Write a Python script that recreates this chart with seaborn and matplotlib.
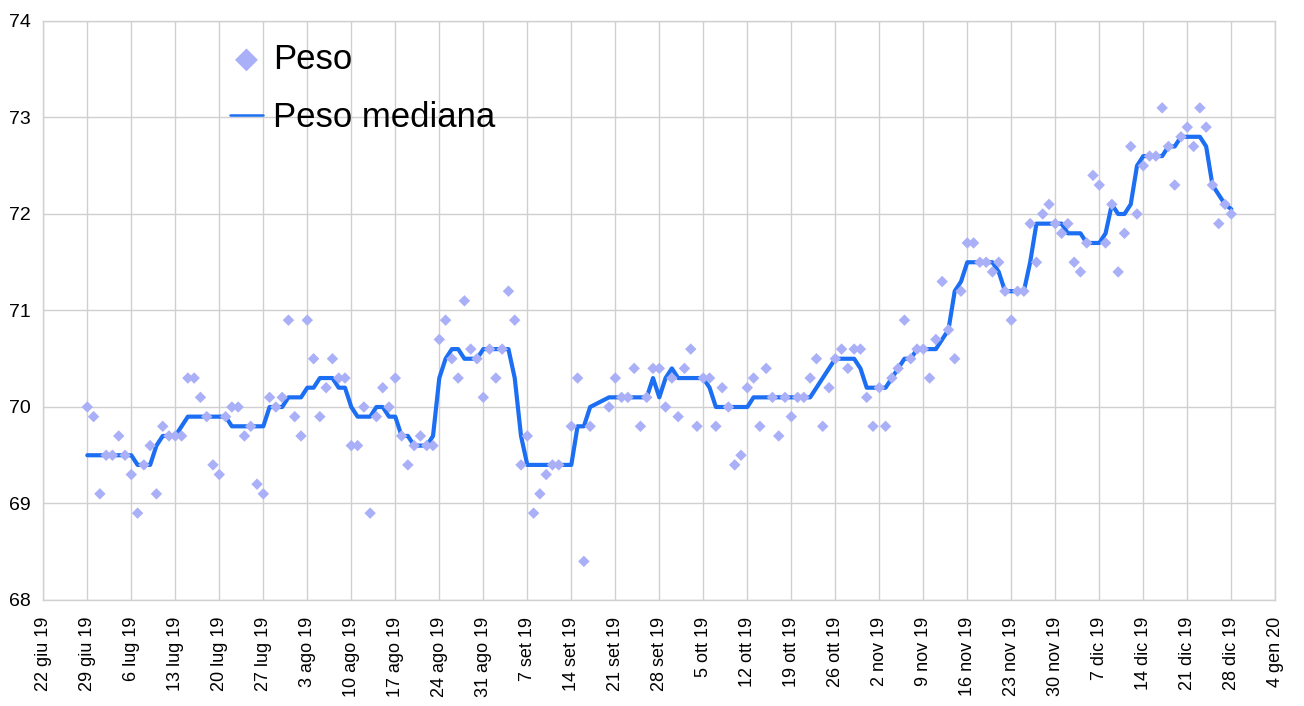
import numpy as np
import pandas as pd
import matplotlib
matplotlib.use("Agg")
import matplotlib.pyplot as plt
import seaborn as sns

NA = None
# daily weights from 29 giu 19 (day 0) to 28 dic 19 (day 182); None = no measurement
peso = [
    70.0, 69.9, 69.1, 69.5, 69.5, 69.7, 69.5, 69.3, 68.9, 69.4,   # 0-9
    69.6, 69.1, 69.8, 69.7, 69.7, 69.7, 70.3, 70.3, 70.1, 69.9,   # 10-19
    69.4, 69.3, 69.9, 70.0, 70.0, 69.7, 69.8, 69.2, 69.1, 70.1,   # 20-29
    70.0, 70.1, 70.9, 69.9, 69.7, 70.9, 70.5, 69.9, 70.2, 70.5,   # 30-39
    70.3, 70.3, 69.6, 69.6, 70.0, 68.9, 69.9, 70.2, 70.0, 70.3,   # 40-49
    69.7, 69.4, 69.6, 69.7, 69.6, 69.6, 70.7, 70.9, 70.5, 70.3,   # 50-59
    71.1, 70.6, 70.5, 70.1, 70.6, 70.3, 70.6, 71.2, 70.9, 69.4,   # 60-69
    69.7, 68.9, 69.1, 69.3, 69.4, 69.4, NA, 69.8, 70.3, 68.4,     # 70-79
    69.8, NA, NA, 70.0, 70.3, 70.1, 70.1, 70.4, 69.8, 70.1,       # 80-89
    70.4, 70.4, 70.0, 70.3, 69.9, 70.4, 70.6, 69.8, 70.3, 70.3,   # 90-99
    69.8, 70.2, 70.0, 69.4, 69.5, 70.2, 70.3, 69.8, 70.4, 70.1,   # 100-109
    69.7, 70.1, 69.9, 70.1, 70.1, 70.3, 70.5, 69.8, 70.2, 70.5,   # 110-119
    70.6, 70.4, 70.6, 70.6, 70.1, 69.8, 70.2, 69.8, 70.3, 70.4,   # 120-129
    70.9, 70.5, 70.6, 70.6, 70.3, 70.7, 71.3, 70.8, 70.5, 71.2,   # 130-139
    71.7, 71.7, 71.5, 71.5, 71.4, 71.5, 71.2, 70.9, 71.2, 71.2,   # 140-149
    71.9, 71.5, 72.0, 72.1, 71.9, 71.8, 71.9, 71.5, 71.4, 71.7,   # 150-159
    72.4, 72.3, 71.7, 72.1, 71.4, 71.8, 72.7, 72.0, 72.5, 72.6,   # 160-169
    72.6, 73.1, 72.7, 72.3, 72.8, 72.9, 72.7, 73.1, 72.9, 72.3,   # 170-179
    71.9, 72.1, 72.0,                                             # 180-182
]
# "Peso mediana" line values (None where there is no row)
peso_mediana = [
    69.50, 69.50, 69.50, 69.50, 69.50, 69.50, 69.50, 69.50, 69.40, 69.40,
    69.40, 69.60, 69.70, 69.70, 69.70, 69.80, 69.90, 69.90, 69.90, 69.90,
    69.90, 69.90, 69.90, 69.80, 69.80, 69.80, 69.80, 69.80, 69.80, 70.00,
    70.00, 70.00, 70.10, 70.10, 70.10, 70.20, 70.20, 70.30, 70.30, 70.30,
    70.20, 70.20, 70.00, 69.90, 69.90, 69.90, 70.00, 70.00, 69.90, 69.90,
    69.70, 69.70, 69.60, 69.60, 69.60, 69.70, 70.30, 70.50, 70.60, 70.60,
    70.50, 70.50, 70.50, 70.60, 70.60, 70.60, 70.60, 70.60, 70.30, 69.70,
    69.40, 69.40, 69.40, 69.40, 69.40, 69.40, NA, 69.40, 69.80, 69.80,
    70.00, NA, NA, 70.10, 70.10, 70.10, 70.10, 70.10, 70.10, 70.10,
    70.30, 70.10, 70.30, 70.40, 70.30, 70.30, 70.30, 70.30, 70.30, 70.20,
    70.00, 70.00, 70.00, 70.00, 70.00, 70.00, 70.10, 70.10, 70.10, 70.10,
    70.10, 70.10, 70.10, 70.10, 70.10, 70.10, 70.20, 70.30, 70.40, 70.50,
    70.50, 70.50, 70.50, 70.40, 70.20, 70.20, 70.20, 70.20, 70.30, 70.40,
    70.50, 70.50, 70.60, 70.60, 70.60, 70.60, 70.70, 70.80, 71.20, 71.30,
    71.50, 71.50, 71.50, 71.50, 71.50, 71.40, 71.20, 71.20, 71.20, 71.20,
    71.50, 71.90, 71.90, 71.90, 71.90, 71.90, 71.80, 71.80, 71.80, 71.70,
    71.70, 71.70, 71.80, 72.10, 72.00, 72.00, 72.10, 72.50, 72.60, 72.60,
    72.60, 72.60, 72.70, 72.70, 72.80, 72.80, 72.80, 72.80, 72.70, 72.30,
    72.20, 72.10, 72.05,
]
date_start = "2019-06-29"
date_end = "2019-12-28"

tick_labels = ["22 giu 19", "29 giu 19", "6 lug 19", "13 lug 19", "20 lug 19",
               "27 lug 19", "3 ago 19", "10 ago 19", "17 ago 19", "24 ago 19",
               "31 ago 19", "7 set 19", "14 set 19", "21 set 19", "28 set 19",
               "5 ott 19", "12 ott 19", "19 ott 19", "26 ott 19", "2 nov 19",
               "9 nov 19", "16 nov 19", "23 nov 19", "30 nov 19", "7 dic 19",
               "14 dic 19", "21 dic 19", "28 dic 19", "4 gen 20"]
y_ticks = [68, 69, 70, 71, 72, 73, 74]

dates = pd.date_range(date_start, date_end, freq="D")
tick_dates = pd.date_range("2019-06-22", "2020-01-04", freq="7D")

df = pd.DataFrame({
    "data": dates,
    "Peso": pd.to_numeric(pd.Series(peso), errors="coerce").astype(float),
    "Peso mediana": pd.to_numeric(pd.Series(peso_mediana), errors="coerce").astype(float),
})

sns.set_theme(style="white")
plt.rcParams["font.family"] = ["Liberation Sans", "DejaVu Sans"]
plt.rcParams["text.color"] = "black"
plt.rcParams["xtick.color"] = "black"
plt.rcParams["ytick.color"] = "black"

W, H = 1304, 706
fig = plt.figure(figsize=(W / 100, H / 100), dpi=100)
x0, x1, yt, yb = 43.3, 1275.3, 21, 600
ax = fig.add_axes([x0 / W, 1 - yb / H, (x1 - x0) / W, (yb - yt) / H])

sns.lineplot(data=df.dropna(subset=["Peso mediana"]), x="data", y="Peso mediana",
             ax=ax, color="#1C6EF2", linewidth=3, label="Peso mediana", zorder=2)
sns.scatterplot(data=df.dropna(subset=["Peso"]), x="data", y="Peso", ax=ax,
                marker="D", s=34, color="#AAB0F7", edgecolor="none",
                label="Peso", zorder=3)

ax.set_xlim(tick_dates[0], tick_dates[-1])
ax.set_ylim(68, 74)
ax.set_xticks(tick_dates)
ax.set_xticklabels(tick_labels, rotation=90, fontsize=13, va="top")
ax.set_yticks(y_ticks)
ax.set_yticklabels([str(v) for v in y_ticks], fontsize=14)
ax.set_xlabel("")
ax.set_ylabel("")
ax.grid(True, color="#d0d0d0", linewidth=1)
for sp in ax.spines.values():
    sp.set_color("#d0d0d0")
    sp.set_linewidth(1)
ax.tick_params(axis="both", length=4, color="#c8c8c8", width=1, labelcolor="black")
ax.tick_params(axis="x", pad=8)
ax.tick_params(axis="y", pad=5)

h, l = ax.get_legend_handles_labels()
order = [l.index("Peso"), l.index("Peso mediana")]
leg = ax.legend([h[i] for i in order], [l[i] for i in order], loc="upper left",
                bbox_to_anchor=(0.1515, 0.962), borderaxespad=0, borderpad=0,
                frameon=False, fontsize=25, handlelength=0.95, handletextpad=0.3,
                labelspacing=0.72, markerscale=2.0)
for t in leg.get_texts():
    t.set_color("black")
for lh in leg.get_lines():
    lh.set_linewidth(1.8)

fig.savefig("out.png", dpi=100)
